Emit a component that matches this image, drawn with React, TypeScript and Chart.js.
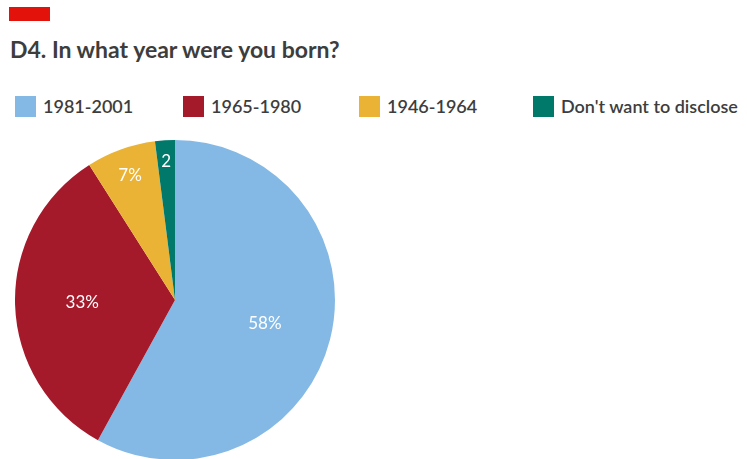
import React, { useEffect, useRef } from "react";
import { Chart, registerables } from "chart.js";

Chart.register(...registerables);

const categories = ["1981-2001", "1965-1980", "1946-1964", "Don't want to disclose"];
const values = [58, 33, 7, 2];
const colors = ["#85b9e5", "#a51a2b", "#ebb335", "#00786a"];
const legendX = [15, 183, 359, 533];

const FONT = "Lato, 'Open Sans', sans-serif";

const labelPlugin = {
  id: "sliceLabels",
  afterDatasetsDraw(chart: any) {
    const ctx = chart.ctx;
    const meta = chart.getDatasetMeta(0);
    const total = values.reduce((a, b) => a + b, 0);
    ctx.save();
    ctx.fillStyle = "#ffffff";
    ctx.font = `17px ${FONT}`;
    ctx.textAlign = "center";
    ctx.textBaseline = "middle";
    meta.data.forEach((arc: any, i: number) => {
      const share = values[i] / total;
      const mid = (arc.startAngle + arc.endAngle) / 2;
      const frac = share >= 0.1 ? 0.58 : share >= 0.05 ? 0.83 : 0.87;
      const r = arc.outerRadius * frac;
      const x = arc.x + Math.cos(mid) * r;
      const y = arc.y + Math.sin(mid) * r;
      const text = share >= 0.05 ? `${values[i]}%` : `${values[i]}`;
      ctx.fillText(text, x, y);
    });
    ctx.restore();
  },
};

export default function App() {
  const ref = useRef<HTMLCanvasElement>(null);
  useEffect(() => {
    document.body.style.margin = "0";
    const chart = new Chart(ref.current!, {
      type: "pie",
      data: {
        labels: categories,
        datasets: [
          {
            data: values,
            backgroundColor: colors,
            borderWidth: 0,
          },
        ],
      },
      options: {
        responsive: false,
        animation: false,
        layout: { padding: 0 },
        plugins: {
          legend: { display: false },
          tooltip: { enabled: false },
        },
      },
      plugins: [labelPlugin],
    });
    return () => chart.destroy();
  }, []);

  return (
    <div
      style={{
        position: "relative",
        width: 747,
        height: 459,
        overflow: "hidden",
        background: "#fff",
        fontFamily: FONT,
        color: "#3d3d3d",
      }}
    >
      <div
        style={{
          position: "absolute",
          left: 9,
          top: 7,
          width: 41,
          height: 14,
          background: "#e3120b",
        }}
      />
      <div
        style={{
          position: "absolute",
          left: 10,
          top: 35,
          fontSize: 23,
          fontWeight: 700,
          whiteSpace: "nowrap",
          lineHeight: "29px",
        }}
      >
        D4. In what year were you born?
      </div>
      {categories.map((c, i) => (
        <div
          key={c}
          style={{
            position: "absolute",
            left: legendX[i],
            top: 95,
            height: 22,
            display: "flex",
            alignItems: "center",
            whiteSpace: "nowrap",
          }}
        >
          <span
            style={{
              display: "inline-block",
              width: 21,
              height: 21,
              background: colors[i],
              marginRight: 7,
            }}
          />
          <span style={{ fontSize: 18, fontWeight: 600 }}>{c}</span>
        </div>
      ))}
      <canvas
        ref={ref}
        width={320}
        height={320}
        style={{ position: "absolute", left: 15, top: 140, width: 320, height: 320 }}
      />
    </div>
  );
}
